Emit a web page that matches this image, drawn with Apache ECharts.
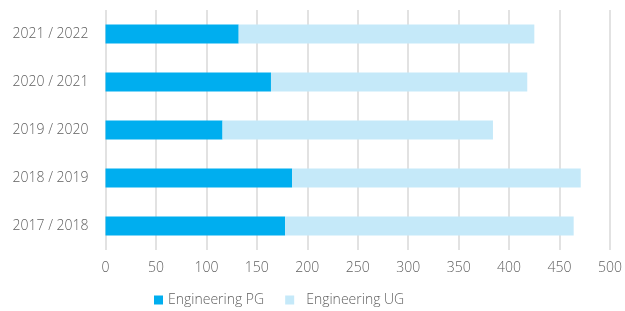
<!DOCTYPE html>
<html>
<head>
    <meta charset="utf-8">
    <title>Engineering PG / UG</title>
    <script src="https://cdn.jsdelivr.net/npm/echarts@6/dist/echarts.min.js"></script>
    <style>
      body { padding: 0; margin: 0; background: #fff; }
      #main { width: 625px; height: 311px; }
    </style>
</head>
<body>
  <div id="main"></div>
  <script type="text/javascript">
    // bottom to top, as drawn on the category axis
    const years = ['2017 / 2018', '2018 / 2019', '2019 / 2020', '2020 / 2021', '2021 / 2022']
    const pg = [178, 185, 116, 164, 132]
    const ug = [286, 286, 268, 254, 293]
    const xTicks = { min: 0, max: 500, interval: 50 }

    const font = 'Open Sans'
    const grey = '#5f5f5f'
    var myChart = echarts.init(document.getElementById('main'))

    option = {
      animation: false,
      textStyle: { fontFamily: font, fontWeight: 300 },
      grid: { left: 105.5, right: 15, top: 10, bottom: 61, containLabel: false },
      legend: {
        top: 288,
        left: 149,
        icon: 'rect',
        itemWidth: 9,
        itemHeight: 9,
        itemGap: 21,
        formatter: function (name) {
          return name === 'Engineering UG' ? '{u|' + name + '}' : '{p|' + name + '}'
        },
        textStyle: {
          color: grey, fontSize: 14, fontFamily: font, fontWeight: 300,
          rich: {
            p: { color: grey, fontSize: 14, fontFamily: font, fontWeight: 300 },
            u: { color: grey, fontSize: 14, fontFamily: font, fontWeight: 300, padding: [0, 0, 0, 7] }
          }
        },
        data: ['Engineering PG', 'Engineering UG']
      },
      xAxis: {
        type: 'value',
        min: xTicks.min,
        max: xTicks.max,
        interval: xTicks.interval,
        axisLine: { show: false },
        axisTick: { show: false },
        axisLabel: { color: grey, fontSize: 14, fontWeight: 300, margin: 11 },
        splitLine: { lineStyle: { color: '#d9d9d9', width: 1.5 } }
      },
      yAxis: {
        type: 'category',
        data: years,
        axisLine: { show: false },
        axisTick: { show: false },
        axisLabel: { color: grey, fontSize: 14, fontWeight: 300, margin: 17 }
      },
      series: [
        {
          name: 'Engineering PG',
          type: 'bar',
          stack: 'total',
          barWidth: 19,
          itemStyle: { color: '#00aeef' },
          data: pg
        },
        {
          name: 'Engineering UG',
          type: 'bar',
          stack: 'total',
          barWidth: 19,
          itemStyle: { color: '#c5e9f9' },
          data: ug
        }
      ]
    }
    myChart.setOption(option)
  </script>
</body>
</html>
